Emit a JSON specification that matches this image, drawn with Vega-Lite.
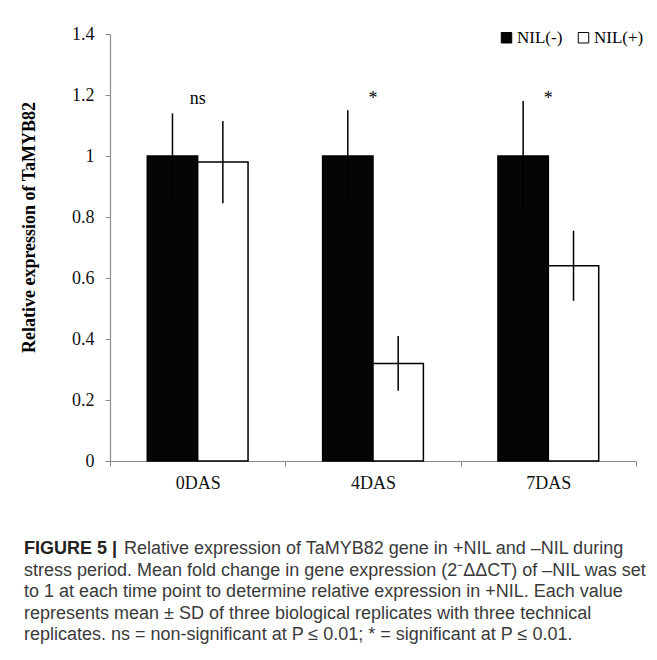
{
  "$schema": "https://vega.github.io/schema/vega-lite/v6.json",
  "width": 526,
  "height": 427,
  "autosize": {"type": "none"},
  "padding": {"left": 110, "top": 34, "right": 21, "bottom": 199},
  "background": "white",
  "config": {
    "view": {"stroke": null},
    "font": "Liberation Serif"
  },
  "title": {
    "text": "FIGURE 5 |",
    "subtitle": [
      "\u200b\u00a0\u00a0\u00a0\u00a0\u00a0\u00a0\u00a0\u00a0\u00a0\u00a0\u00a0\u00a0\u00a0\u00a0\u00a0\u00a0\u00a0\u00a0\u00a0\u00a0Relative expression of TaMYB82 gene in +NIL and \u2013NIL during",
      "stress period. Mean fold change in gene expression (2\u207b\u0394\u0394CT) of \u2013NIL was set",
      "to 1 at each time point to determine relative expression in +NIL. Each value",
      "represents mean \u00b1 SD of three biological replicates with three technical",
      "replicates. ns = non-significant at P \u2264 0.01; * = significant at P \u2264 0.01."
    ],
    "orient": "bottom",
    "anchor": "start",
    "frame": "group",
    "dx": -86,
    "offset": 48,
    "font": "Liberation Sans",
    "fontSize": 18,
    "fontWeight": "bold",
    "color": "#222222",
    "subtitleFont": "Liberation Sans",
    "subtitleFontSize": 18,
    "subtitleFontWeight": "normal",
    "subtitleColor": "#3a3a3a",
    "subtitleLineHeight": 21.5,
    "subtitlePadding": -18
  },
  "datasets": {
    "bars": [
      {"day": "0DAS", "group": "NIL(-)", "value": 1.0, "lo": 0.86, "hi": 1.14},
      {"day": "0DAS", "group": "NIL(+)", "value": 0.98, "lo": 0.845, "hi": 1.115},
      {"day": "4DAS", "group": "NIL(-)", "value": 1.0, "lo": 0.85, "hi": 1.15},
      {"day": "4DAS", "group": "NIL(+)", "value": 0.32, "lo": 0.23, "hi": 0.41},
      {"day": "7DAS", "group": "NIL(-)", "value": 1.0, "lo": 0.82, "hi": 1.18},
      {"day": "7DAS", "group": "NIL(+)", "value": 0.64, "lo": 0.525, "hi": 0.755}
    ],
    "notes": [
      {"day": "0DAS", "label": "ns", "pos": 1.17},
      {"day": "4DAS", "label": "*", "pos": 1.17},
      {"day": "7DAS", "label": "*", "pos": 1.17}
    ]
  },
  "encoding": {
    "x": {
      "field": "day",
      "type": "nominal",
      "sort": ["0DAS", "4DAS", "7DAS"],
      "scale": {"paddingInner": 0, "paddingOuter": 0},
      "axis": {
        "title": null,
        "labelAngle": 0,
        "labelFont": "Liberation Serif",
        "labelFontSize": 18,
        "labelColor": "#111111",
        "labelPadding": 8,
        "tickBand": "extent",
        "tickSize": 5,
        "tickColor": "#8a8a8a",
        "domainColor": "#8a8a8a",
        "domainWidth": 1.2
      }
    }
  },
  "layer": [
    {
      "data": {"name": "bars"},
      "mark": {"type": "bar", "stroke": "#000000", "strokeWidth": 1.5},
      "encoding": {
        "xOffset": {
          "field": "group",
          "type": "nominal",
          "sort": ["NIL(-)", "NIL(+)"],
          "scale": {"paddingInner": 0, "paddingOuter": 0.74}
        },
        "y": {
          "field": "value",
          "type": "quantitative",
          "scale": {"domain": [0, 1.4], "nice": false, "zero": true},
          "axis": {
            "title": "Relative expression of TaMYB82",
            "titleFont": "Liberation Serif",
            "titleFontSize": 18,
            "titleFontWeight": "bold",
            "titleColor": "#000000",
            "titlePadding": 33,
            "titleY": 193,
            "values": [0, 0.2, 0.4, 0.6, 0.8, 1, 1.2, 1.4],
            "format": "~g",
            "grid": false,
            "labelFont": "Liberation Serif",
            "labelFontSize": 18,
            "labelColor": "#111111",
            "labelPadding": 11,
            "tickSize": 5,
            "tickColor": "#8a8a8a",
            "domainColor": "#8a8a8a",
            "domainWidth": 1.2
          }
        },
        "fill": {
          "field": "group",
          "type": "nominal",
          "sort": ["NIL(-)", "NIL(+)"],
          "scale": {"domain": ["NIL(-)", "NIL(+)"], "range": ["#050505", "#ffffff"]},
          "legend": {
            "title": null,
            "orient": "none",
            "legendX": 388,
            "legendY": -5,
            "direction": "horizontal",
            "symbolType": "square",
            "symbolSize": 110,
            "symbolStrokeColor": "#000000",
            "symbolStrokeWidth": 1,
            "labelFont": "Liberation Serif",
            "labelFontSize": 17,
            "labelColor": "#000000",
            "labelOffset": 2,
            "columnPadding": 12
          }
        }
      }
    },
    {
      "data": {"name": "bars"},
      "mark": {"type": "rule", "color": "#000000", "strokeWidth": 1.5},
      "encoding": {
        "xOffset": {
          "field": "group",
          "type": "nominal",
          "sort": ["NIL(-)", "NIL(+)"]
        },
        "y": {"field": "lo", "type": "quantitative"},
        "y2": {"field": "hi"}
      }
    },
    {
      "data": {"name": "notes"},
      "mark": {"type": "text", "font": "Liberation Serif", "fontSize": 18, "color": "#000000", "baseline": "alphabetic"},
      "encoding": {
        "y": {"field": "pos", "type": "quantitative"},
        "text": {"field": "label"}
      }
    }
  ]
}
